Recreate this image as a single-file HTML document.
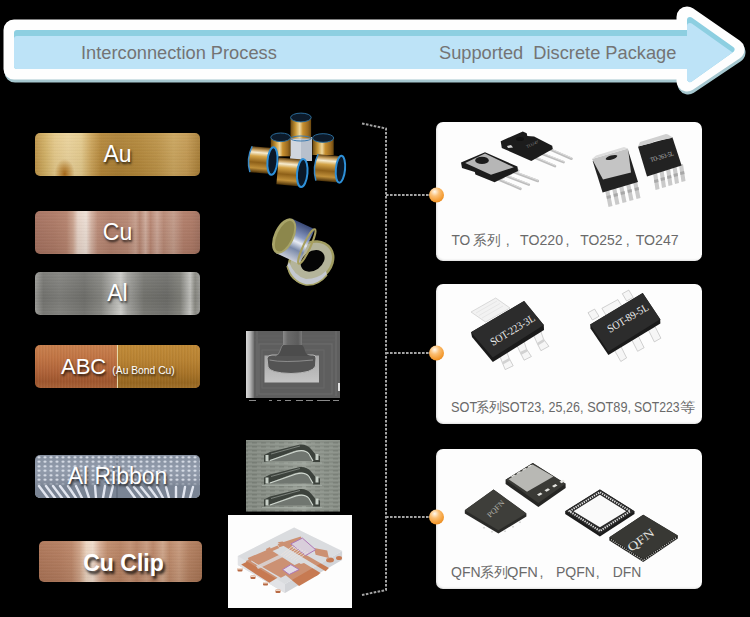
<!DOCTYPE html>
<html><head><meta charset="utf-8">
<style>
html,body{margin:0;padding:0;background:#000;width:750px;height:617px;overflow:hidden;position:relative;font-family:"Liberation Sans",sans-serif;}
.abs{position:absolute;}
.hdr{position:absolute;color:#747474;font-size:18.25px;line-height:1;white-space:nowrap;}
.btn{position:absolute;left:35px;width:165px;height:43px;border-radius:5px;overflow:hidden;}
.btn span{position:absolute;left:0;right:0;text-align:center;color:#fff;font-size:23px;line-height:1;text-shadow:1px 2px 2.5px rgba(0,0,0,.8);white-space:nowrap;}
.card{position:absolute;left:436px;width:266px;border-radius:7px;background:#fdfdfd;overflow:hidden;box-shadow:inset 1px -1px 2px rgba(0,0,0,.12);}
.card .t{position:absolute;left:15px;color:#686868;font-size:13.5px;line-height:1;white-space:nowrap;}
</style></head>
<body>
<!-- top arrow -->
<svg class="abs" style="left:0;top:0" width="750" height="100" viewBox="0 0 750 100">
  <defs>
    <mask id="innerclip" maskUnits="userSpaceOnUse" x="0" y="0" width="750" height="100"><path d="M17,33 L690,33 L690,20 L731.5,49.5 L690,79 L690,66 L17,66 Z" fill="#fff" stroke="#fff" stroke-width="6" stroke-linejoin="round"/></mask>
  </defs>
  <path transform="translate(1,3)" d="M14,30 L687,30 L687,17 L734,49.5 L687,81 L687,69 L14,69 Z" fill="#a5c7cf" stroke="#a5c7cf" stroke-width="21" stroke-linejoin="round"/>
  <path d="M14,30 L687,30 L687,17 L734,49.5 L687,81 L687,69 L14,69 Z" fill="#fefefe" stroke="#fefefe" stroke-width="21" stroke-linejoin="round"/>
  <path d="M17,33 L690,33 L690,20 L731.5,49.5 L690,79 L690,66 L17,66 Z" fill="#8dcfe1" stroke="#8dcfe1" stroke-width="6" stroke-linejoin="round"/>
  <g mask="url(#innerclip)"><path transform="translate(0,6)" d="M17,33 L690,33 L690,20 L731.5,49.5 L690,79 L690,66 L17,66 Z" fill="#bde3f7" stroke="#bde3f7" stroke-width="6" stroke-linejoin="round"/></g>
</svg>
<div class="hdr" style="left:81px;top:44px">Interconnection Process</div>
<div class="hdr" style="left:439px;top:44px">Supported&nbsp; Discrete Package</div>

<!-- buttons -->
<div class="btn" style="top:133px;background:repeating-linear-gradient(0deg,rgba(255,255,255,.025) 0px,rgba(255,255,255,.025) 1px,rgba(0,0,0,.02) 1px,rgba(0,0,0,.02) 2px,rgba(0,0,0,0) 2px,rgba(0,0,0,0) 3px),radial-gradient(ellipse 10px 15px at 18% 95%,rgba(160,98,18,.95),rgba(170,110,28,.55) 50%,rgba(175,115,30,0)),linear-gradient(180deg,rgba(255,255,255,.06),rgba(0,0,0,.06)),linear-gradient(90deg,#be9448 0%,#d2b064 6%,#e4c888 12%,#ead29a 20%,#e4ca8c 28%,#cca45a 34%,#b48638 40%,#ac8034 50%,#b28638 62%,#bc9246 74%,#caa45c 84%,#c49a52 92%,#a87e36 100%)"><span style="top:10px">Au</span></div>
<div class="btn" style="top:211px;background:repeating-linear-gradient(0deg,rgba(255,255,255,.025) 0px,rgba(255,255,255,.025) 1px,rgba(0,0,0,.02) 1px,rgba(0,0,0,.02) 2px,rgba(0,0,0,0) 2px,rgba(0,0,0,0) 3px),linear-gradient(180deg,rgba(255,255,255,.04),rgba(0,0,0,.08)),linear-gradient(90deg,#a67260 0%,#ae7a66 12%,#b6836e 19%,#ccA490 23%,#e8d4c8 26%,#eee0d6 31%,#d6b4a4 34%,#bc8c78 38%,#b2806c 46%,#b88874 56%,#c8a08e 61%,#b68672 63.5%,#d0ac9c 67%,#b88672 70%,#ccA696 74%,#b88874 78%,#c49c8a 84%,#b27e6a 90%,#ae7a66 95%,#a0705e 100%)"><span style="top:10px">Cu</span></div>
<div class="btn" style="top:272px;background:repeating-linear-gradient(0deg,rgba(255,255,255,.025) 0px,rgba(255,255,255,.025) 1px,rgba(0,0,0,.02) 1px,rgba(0,0,0,.02) 2px,rgba(0,0,0,0) 2px,rgba(0,0,0,0) 3px),linear-gradient(180deg,rgba(255,255,255,.08),rgba(0,0,0,.04) 60%,rgba(255,255,255,.04)),linear-gradient(90deg,#9a9a96 0%,#747470 5%,#7e7e7a 15%,#70706c 30%,#84847f 40%,#acaca8 47%,#cacac6 52%,#a0a09c 56%,#74746f 66%,#6c6c68 80%,#7e7e78 88%,#c0c0bc 94%,#86867f 97%,#9a9a96 100%)"><span style="top:10px">Al</span></div>
<div class="btn" style="top:345px;background:repeating-linear-gradient(90deg,rgba(255,255,255,.03) 0px,rgba(255,255,255,.03) 1px,rgba(0,0,0,.03) 1px,rgba(0,0,0,.03) 2px,rgba(0,0,0,0) 2px,rgba(0,0,0,0) 3px),linear-gradient(180deg,#c8804e 0%,#c07444 30%,#b0643a 60%,#9e562e 85%,#a86238 100%)">
  <div class="abs" style="left:82px;top:0;width:83px;height:43px;background:repeating-linear-gradient(90deg,rgba(255,255,255,.03) 0px,rgba(255,255,255,.03) 1px,rgba(0,0,0,.03) 1px,rgba(0,0,0,.03) 2px,rgba(0,0,0,0) 2px,rgba(0,0,0,0) 3px),linear-gradient(180deg,#c08a38 0%,#b88232 35%,#a87428 65%,#966620 88%,#a0702a 100%)"></div>
  <div class="abs" style="left:82px;top:0;width:1px;height:43px;background:#e6d8a8"></div>
  <span style="top:11px;left:26px;text-align:left;font-size:22px">ABC <small style="font-size:10.3px;position:relative;top:0px">(Au Bond Cu)</small></span></div>
<div class="btn rib" style="top:455px;background:radial-gradient(ellipse 2.2px 1.4px at 50% 50%,rgba(240,244,250,.95) 0px,rgba(235,240,248,.7) 1.1px,rgba(225,232,242,0) 2.2px) 1px 0px/6px 4.5px,linear-gradient(180deg,#8690a0 0%,#929cac 35%,#868f9f 62%,#9aa2b0 100%)">
  <svg class="abs" style="left:0;top:0" width="165" height="43"><defs><linearGradient id="ribfade" x1="0" y1="0" x2="0" y2="1"><stop offset="0" stop-color="#7a8494" stop-opacity="0"/><stop offset="0.3" stop-color="#7a8494" stop-opacity="1"/></linearGradient></defs><rect x="0" y="26" width="165" height="17" fill="url(#ribfade)"/><g stroke="rgba(236,240,248,.9)" stroke-width="2.4" fill="none" stroke-linecap="round">
  <path d="M4,31 L13,43 M11,31 L20,43 M18,31 L27,43 M25,31 L34,43 M33,31 L41,43 M41,31 L47,43 M50,31 L54,43 M60,31 L61,43 M70,31 L68,43 M78,31 L75,43 M92,32 L100,43 M99,32 L108,43 M106,32 L115,43 M114,32 L122,43 M122,32 L128,43 M131,32 L134,43 M141,32 L141,43 M150,32 L148,43 M158,32 L155,43"/></g>
  <path d="M82,0 L82,43" stroke="rgba(50,58,70,.45)" stroke-width="1"/></svg>
  <span style="top:10px">Al Ribbon</span></div>
<div class="btn" style="top:541px;left:39px;width:163px;height:41px;background:repeating-linear-gradient(0deg,rgba(255,255,255,.025) 0px,rgba(255,255,255,.025) 1px,rgba(0,0,0,.02) 1px,rgba(0,0,0,.02) 2px,rgba(0,0,0,0) 2px,rgba(0,0,0,0) 3px),linear-gradient(180deg,rgba(255,255,255,.04),rgba(0,0,0,.08)),linear-gradient(90deg,#ae7658 0%,#b47c5e 12%,#bc8668 20%,#d0a488 25%,#ecd4c0 29%,#f0dccc 33%,#d8b098 37%,#c08c6c 42%,#b88262 50%,#c49274 56%,#b88264 60%,#c89a7e 66%,#ba8466 70%,#d0a68a 76%,#bc8868 80%,#c89a7c 86%,#b48060 92%,#a87454 100%)"><span style="top:11px;padding-left:6px;font-weight:bold;text-shadow:2px 3px 3px rgba(0,0,0,.85)">Cu Clip</span></div>

<!-- middle images -->
<svg class="abs" style="left:0;top:0" width="750" height="617">
  <defs>
    <linearGradient id="goldv" x1="0" y1="0" x2="0" y2="1">
      <stop offset="0" stop-color="#5a3c10"/><stop offset="0.12" stop-color="#c8a060"/><stop offset="0.22" stop-color="#f6ecd0"/><stop offset="0.36" stop-color="#d4a448"/><stop offset="0.6" stop-color="#8e6018"/><stop offset="0.82" stop-color="#c0903a"/><stop offset="1" stop-color="#4a3008"/>
    </linearGradient>
    <linearGradient id="goldh" x1="0" y1="0" x2="1" y2="0">
      <stop offset="0" stop-color="#6a4810"/><stop offset="0.25" stop-color="#c89838"/><stop offset="0.45" stop-color="#eed8a0"/><stop offset="0.6" stop-color="#c89030"/><stop offset="0.85" stop-color="#9a6a20"/><stop offset="1" stop-color="#6a4810"/>
    </linearGradient>
    <pattern id="ribtex" width="9" height="4" patternUnits="userSpaceOnUse"><rect width="9" height="1" fill="rgba(210,220,210,.12)"/><rect y="2" width="5" height="1" fill="rgba(40,50,40,.12)"/><rect x="5" y="3" width="4" height="1" fill="rgba(230,235,230,.1)"/></pattern>
    <radialGradient id="flange" cx="0.5" cy="0.5" r="0.5"><stop offset="0" stop-color="#0a2a50"/><stop offset="0.7" stop-color="#1a70b8"/><stop offset="1" stop-color="#40a8e8"/></radialGradient>
    <linearGradient id="silv" x1="0" y1="0" x2="0" y2="1"><stop offset="0" stop-color="#3a4a78"/><stop offset="0.35" stop-color="#8898c0"/><stop offset="0.5" stop-color="#e8ecf4"/><stop offset="0.7" stop-color="#7888a8"/><stop offset="1" stop-color="#c8ccd8"/></linearGradient>
  </defs>
  <!-- gold spools -->
  <g>
    <rect x="290" y="137" width="22" height="24" fill="#b8c0cc"/>
    <rect x="291" y="139" width="10" height="21" fill="#d0d6de"/>
    <rect x="290.5" y="117.5" width="20.6" height="21" fill="url(#goldh)"/>
    <ellipse cx="300.9" cy="138.5" rx="10.3" ry="2.5" fill="none" stroke="#3a7ab0" stroke-width="1"/>
    <ellipse cx="300.9" cy="117.5" rx="10.3" ry="4.4" fill="#0c1a2a" stroke="#2a6a98" stroke-width="1"/>
    <rect x="270.8" y="137.3" width="19.8" height="19" fill="url(#goldh)"/>
    <ellipse cx="280.7" cy="137.3" rx="9.9" ry="4.3" fill="#0c1a2a" stroke="#2a6a98" stroke-width="1"/>
    <rect x="312.5" y="138" width="21.2" height="17" fill="url(#goldh)"/>
    <ellipse cx="323.1" cy="138" rx="10.6" ry="4.3" fill="#0c1a2a" stroke="#2a6a98" stroke-width="1"/>
    <g transform="rotate(5 260 160)">
      <path d="M251,147 L272,147 L272,173 L251,173 Q246,160 251,147 Z" fill="url(#goldv)"/>
      <path d="M251,147 Q246,160 251,173" fill="none" stroke="#3a8ac8" stroke-width="1.5"/>
      <ellipse cx="272.5" cy="160" rx="5" ry="13.8" fill="#0a1828" stroke="#2e90d8" stroke-width="2"/>
    </g>
    <g transform="rotate(5 290 172)">
      <rect x="277.5" y="158.5" width="24.5" height="27" fill="url(#goldv)"/>
      <ellipse cx="302.3" cy="172" rx="5.2" ry="14" fill="#0a1828" stroke="#2e90d8" stroke-width="2"/>
    </g>
    <g transform="rotate(5 327 168)">
      <path d="M317,155 L340,155 L340,181.5 L317,181.5 Q312,168 317,155 Z" fill="url(#goldv)"/>
      <path d="M317,155 Q312,168 317,181.5" fill="none" stroke="#3a8ac8" stroke-width="1.5"/>
      <ellipse cx="340.5" cy="168" rx="4.6" ry="13.5" fill="#0a1828" stroke="#2e90d8" stroke-width="2"/>
    </g>
  </g>
  <!-- silver rings -->
  <g>
    <g transform="rotate(-35 311 262)">
      <ellipse cx="311" cy="262" rx="25" ry="20" fill="#a09c60"/>
      <ellipse cx="311" cy="262" rx="22.5" ry="17.5" fill="#b4b49a"/>
      <ellipse cx="313" cy="262" rx="13" ry="9.5" fill="#050505"/>
    </g>
    <path d="M287,266 Q292,282 306,285 Q318,286 327,275 L326,271 Q318,279 306,279 Q294,276 289,262 Z" fill="#c4c8d0"/>
    <path d="M287,266 Q292,282 306,285 Q318,286 327,275" fill="none" stroke="#a8a468" stroke-width="1.5"/>
    <g transform="rotate(25 295 241)">
      <rect x="283" y="222" width="25" height="38" fill="url(#silv)"/>
      <ellipse cx="308" cy="241" rx="3.5" ry="19" fill="none" stroke="#a8a060" stroke-width="2"/>
      <ellipse cx="283" cy="241" rx="10" ry="19" fill="#a8a468"/>
      <ellipse cx="283.5" cy="241" rx="7.5" ry="16.5" fill="#8c874c"/>
    </g>
  </g>
  <!-- SEM ball bond -->
  <g>
    <defs>
      <linearGradient id="semleft" x1="0" y1="0" x2="1" y2="0"><stop offset="0" stop-color="#d8d8d8"/><stop offset="0.5" stop-color="#b8b8b8"/><stop offset="1" stop-color="#707070"/></linearGradient>
      <linearGradient id="sempad" x1="0" y1="0" x2="0" y2="1"><stop offset="0" stop-color="#a8a8a8"/><stop offset="1" stop-color="#c4c4c4"/></linearGradient>
      <linearGradient id="semcol" x1="0" y1="0" x2="1" y2="0"><stop offset="0" stop-color="#8a8a8a"/><stop offset="0.25" stop-color="#6a6a6a"/><stop offset="0.8" stop-color="#5c5c5c"/><stop offset="1" stop-color="#7a7a7a"/></linearGradient>
    </defs>
    <rect x="246" y="331" width="94" height="67" fill="#5e5e5e"/>
    <rect x="246" y="331" width="8" height="67" fill="url(#semleft)"/>
    <path d="M257,331 V396 M336,331 V396" stroke="#6e6e6e" stroke-width="1"/>
    <rect x="259" y="344" width="73" height="50" fill="none" stroke="#6c6c6c" stroke-width="1.2"/>
    <rect x="262" y="350" width="62" height="38" fill="none" stroke="#686868" stroke-width="1"/>
    <path d="M254,340 H336 M254,336 H336" stroke="#666" stroke-width="0.8"/>
    <rect x="264.5" y="355.5" width="54.5" height="27" fill="url(#sempad)"/>
    <path d="M267,358 Q268,355 272,355 L313,355 Q316,355 316,358 L315.5,366 Q313,373 291,373.5 Q270,373 268,367 Z" fill="#545454" stroke="#b4b4b4" stroke-width="1"/>
    <path d="M269.5,360 Q283,363 313,360" fill="none" stroke="#9a9a9a" stroke-width="0.8"/>
    <path d="M275,356 Q279,355 280,351 Q281,346 284,344 L301,344 Q304,346 305,351 Q306,355 311,356 Z" fill="#4c4c4c"/>
    <path d="M275,356 Q279,355 280,351 Q281,346 284,344" fill="none" stroke="#8a8a8a" stroke-width="0.8"/>
    <rect x="283" y="331" width="19" height="14" fill="url(#semcol)"/>
    <rect x="338" y="383" width="2" height="8" fill="#e0e0e0"/>
    <rect x="246" y="398" width="94" height="5" fill="#000"/>
    <path d="M249,400.5 H256 M269,400.5 H272 M277,400.5 H281 M285,400.5 H291 M296,400.5 H303 M306,400.5 H313 M317,400.5 H330 M333,400.5 H339" stroke="#8a8a8a" stroke-width="1.1"/>
  </g>
  <!-- ribbon SEM -->
  <g>
    <defs>
      <linearGradient id="ribbg" x1="0" y1="0" x2="1" y2="0"><stop offset="0" stop-color="#80867e"/><stop offset="0.4" stop-color="#8a9088"/><stop offset="0.62" stop-color="#9aa098"/><stop offset="0.7" stop-color="#8c928a"/><stop offset="1" stop-color="#848a82"/></linearGradient>
    </defs>
    <rect x="246" y="440" width="94" height="71.5" fill="url(#ribbg)"/>
    <rect x="246" y="440" width="94" height="71.5" fill="url(#ribtex)"/>
    <g id="rib1">
      <path d="M266,461 L297,451 Q305,449 310,456 L313,461 Z" fill="#707670"/>
      <path d="M264,455 L270,452 L300,444.5 Q307,444 311,449 L316,455 L320,456 L320,462 L313,462 Q310,455 305,451 Q300,449 294,451 L270,460 L264,462 Z" fill="#3c423c"/>
      <path d="M270,460.5 L296,451.5 Q305,449 309,454 L313,461" fill="none" stroke="#d0d8d0" stroke-width="1.2"/>
      <path d="M271,454 L300,446" fill="none" stroke="#8a908a" stroke-width="0.8"/>
      <rect x="265.5" y="455" width="3" height="6" fill="#c8d0c8"/>
      <rect x="315.5" y="454" width="3" height="6" fill="#c8d0c8"/>
      <path d="M262,463 H322" stroke="#a8b0a8" stroke-width="1" opacity="0.7"/>
    </g>
    <use href="#rib1" transform="translate(0,22.5)"/>
    <use href="#rib1" transform="translate(0,44.5)"/>
  </g>
  <!-- Cu clip package -->
  <g>
    <rect x="228" y="515" width="124" height="93" fill="#fdfdfd"/>
    <path d="M237.9,556 L294.1,527.4 L342.1,551 L285,584 L285,593 L237.9,565 Z" fill="#d9dadd"/>
    <path d="M237.9,556 L285,584 L285,593 L237.9,565 Z" fill="#e2e3e6"/>
    <path d="M285,584 L342.1,551 L342.1,560 L285,593 Z" fill="#d2d4d8"/>
    <g fill="#c77a52">
      <path d="M241.2,564.6 L249.5,560.5 L277.6,577.8 L269.3,582.8 Z"/>
      <path d="M249.5,559.6 L269.3,548.9 L299.1,567.9 L280.9,577.8 Z"/>
      <path d="M247.8,558 L277.6,545.6 L279.3,548.1 L249.5,561.3 Z"/>
      <path d="M256,566 L283,553 L285,556 L258,569 Z" fill="#d9dadd" opacity="0.8"/>
      <path d="M277.6,542.3 L282.6,541.5 L328.9,567.9 L325.6,571.2 Z"/>
      <path d="M277.6,543.9 L300.7,536.5 L302.4,539.8 L279.3,547.2 Z"/>
      <path d="M314,548 L327.2,550.5 L328.9,558 L315.6,554.7 Z"/>
      <path d="M280.9,571.2 L299.1,563 L318.9,574.5 L299.1,586.1 Z"/>
      <path d="M299.1,564.6 L304,563 L320.6,572.9 L315.6,576.2 Z"/>
      <path d="M286,545 L290,543 L293,546 L289,548 Z"/>
      <ellipse cx="330" cy="560" rx="4" ry="2.5"/><ellipse cx="339" cy="558" rx="3" ry="2"/>
      <path d="M266,549 L270,547 L272,552 L268,554 Z"/>
      <path d="M246,561 L250,559 L252,563 L248,565 Z"/>
    </g>
    <g fill="#b86a44"><rect x="237.5" y="568" width="5" height="3.5" rx="1"/><rect x="250.5" y="575.5" width="5" height="3.5" rx="1"/><rect x="263" y="582" width="5" height="3.5" rx="1"/><rect x="275.5" y="589.5" width="5" height="3.5" rx="1"/></g>
    <g fill="#f0d8c8"><rect x="237.5" y="568" width="5" height="1.5"/><rect x="250.5" y="575.5" width="5" height="1.5"/><rect x="263" y="582" width="5" height="1.5"/><rect x="275.5" y="589.5" width="5" height="1.5"/></g>
    <path d="M290.8,543.9 L302.4,538.1 L315.6,549.7 L305.7,555.5 Z" fill="#d8c8d8" stroke="#a058a8" stroke-width="1"/>
    <path d="M282.6,569.6 L290.8,564.6 L299.1,569.6 L289.2,574.5 Z" fill="#e0d8e4" stroke="#a058a8" stroke-width="1"/>
    <g stroke="#efe2da" stroke-width="0.8">
      <path d="M281,555 L293,546 M283.5,556 L295.5,547 M286,557 L298,548 M288.5,558 L300.5,549 M291,559 L303,550 M293.5,560 L305.5,551 M296,561 L308,552"/>
    </g>
    <path d="M237.9,556 L294.1,527.4 L342.1,551 L285,584 Z" fill="rgba(225,226,230,.22)"/>
  </g>
</svg>

<!-- dotted bracket -->
<svg class="abs" style="left:0;top:0" width="750" height="617">
  <g fill="none" stroke="#a4a4a4" stroke-width="2" stroke-dasharray="2.6 1.4">
    <path d="M362,123.5 L386,128.5 L386,590 L362,595"/>
    <path d="M386,195 L432,195"/>
    <path d="M386,353 L432,353"/>
    <path d="M386,517 L432,517"/>
  </g>
</svg>

<!-- cards -->
<div class="card" style="top:122px;height:139px"></div>
<div class="card" style="top:284px;height:140px"></div>
<div class="card" style="top:449px;height:140px"></div>

<!-- card 1 chips -->
<svg class="abs" style="left:0;top:0" width="750" height="617">
  <defs>
    <linearGradient id="lead" x1="0" y1="0" x2="0" y2="1"><stop offset="0" stop-color="#e8e8e8"/><stop offset="1" stop-color="#a8a8a8"/></linearGradient>
  </defs>
  <!-- TO-247 back -->
  <g>
    <g stroke="#bdbdbd" stroke-width="2.6" stroke-linecap="round">
      <path d="M498.2,179.2 L520.4,188.8"/><path d="M505.4,175.6 L528.8,184.6"/><path d="M513.8,172 L537.8,181"/>
    </g>
    <g stroke="#dcdcdc" stroke-width="1" stroke-linecap="round">
      <path d="M498.2,178.4 L520.4,188"/><path d="M505.4,174.8 L528.8,183.8"/><path d="M513.8,171.2 L537.8,180.2"/>
    </g>
    <g fill="#c8c8c8"><path d="M496,177 L502,174.5 L505,178 L499,180.5 Z"/><path d="M503,173.5 L509,171 L512,174.5 L506,177 Z"/><path d="M511,170 L517,167.5 L520,171 L514,173.5 Z"/></g>
    <path d="M461,162.4 L485,152.2 L517.4,166.6 L518,171 L494.6,182.2 L475.4,174.5 L474.8,172 L462,168 Z" fill="#1c1c1c"/>
    <path d="M465.2,163 L485,153.6 L513.8,167.2 L491,174.8 Z" fill="#b6b6b6"/>
    <ellipse cx="482" cy="160.4" rx="6.8" ry="3.6" fill="#1c1c1c"/>
  </g>
  <!-- TO-247 front -->
  <g>
    <g stroke="#bdbdbd" stroke-width="2.6" stroke-linecap="round">
      <path d="M533.5,157 L555,166.1"/><path d="M541.5,153.6 L563.6,162.1"/><path d="M549.4,149.1 L571.5,158.7"/>
    </g>
    <g stroke="#dedede" stroke-width="1" stroke-linecap="round">
      <path d="M533.5,156.2 L555,165.3"/><path d="M541.5,152.8 L563.6,161.3"/><path d="M549.4,148.3 L571.5,157.9"/>
    </g>
    <path d="M500.7,141.2 L522.8,131.5 L526.7,133.2 L527.3,136.1 L534.1,136.6 L552.2,145.7 L552.8,149.1 L531.3,161 L501.8,148 Z" fill="#1c1c1c"/>
    <path d="M507,146 L511,145 L513,147.5 L508,148 Z" fill="#d8d8d8"/>
    <ellipse cx="520" cy="139" rx="4" ry="2" fill="#121212"/>
    <text x="0" y="0" transform="translate(527,148) rotate(-24)" font-family="Liberation Serif" font-size="4" fill="#8a8a8a" textLength="13" lengthAdjust="spacingAndGlyphs">TO247</text>
  </g>
  <!-- TO-263 back -->
  <g>
    <g fill="#cacaca">
      <path d="M605,190 L609,189 L612.5,206 L608.5,207 Z"/><path d="M612,188 L616,187 L619.5,204 L615.5,205 Z"/><path d="M619,186 L623,185 L626.5,202 L622.5,203 Z"/><path d="M626,184 L630,183 L633.5,200 L629.5,201 Z"/><path d="M633,182 L637,181 L640.5,198 L636.5,199 Z"/>
    </g>
    <g fill="#a8a8a8"><path d="M606.5,196 L610.5,195 L611,198 L607,199 Z"/><path d="M613.5,194 L617.5,193 L618,196 L614,197 Z"/><path d="M620.5,192 L624.5,191 L625,194 L621,195 Z"/><path d="M627.5,190 L631.5,189 L632,192 L628,193 Z"/><path d="M634.5,188 L638.5,187 L639,190 L635,191 Z"/></g>
    <path d="M592.7,161 L628,150 L638,182 L602.6,192.5 Z" fill="#222"/>
    <path d="M592,159 L628,148.5 L631,172.5 L603,179.4 Z" fill="#c4c4c4"/>
    <path d="M592,159 L596,155.5 L624,147 L628,148.5 Z" fill="#dedede"/>
    <ellipse cx="611.5" cy="157.5" rx="6" ry="2" transform="rotate(-16 611.5 157.5)" fill="#222"/>
  </g>
  <!-- TO-263 front -->
  <g>
    <g fill="#cacaca">
      <path d="M653,173 L657,172 L659.5,189 L655.5,190 Z"/><path d="M659.5,171 L663.5,170 L666,187 L662,188 Z"/><path d="M666,169 L670,168 L672.5,185 L668.5,186 Z"/><path d="M672.5,167 L676.5,166 L679,183 L675,184 Z"/><path d="M679,165 L683,164 L685.5,181 L681.5,182 Z"/>
    </g>
    <g fill="#a8a8a8"><path d="M654,180 L658,179 L658.5,182 L654.5,183 Z"/><path d="M660.5,178 L664.5,177 L665,180 L661,181 Z"/><path d="M667,176 L671,175 L671.5,178 L667.5,179 Z"/><path d="M673.5,174 L677.5,173 L678,176 L674,177 Z"/><path d="M680,172 L684,171 L684.5,174 L680.5,175 Z"/></g>
    <path d="M638,146.5 L672.4,137.3 L681.6,165.6 L647,176.4 Z" fill="#222"/>
    <path d="M638,146.5 L640,142 L666,134 L668,134.5 L672.4,137.3 L670,138.5 L655,141 L652,143 Z" fill="#d0d0d0"/>
    <text x="0" y="0" transform="translate(651,162) rotate(-16)" font-family="Liberation Serif" font-size="6.5" fill="#c4c4c4" textLength="24" lengthAdjust="spacingAndGlyphs">TO-263-5L</text>
  </g>
</svg>

<!-- card 2/3 chips -->
<svg class="abs" style="left:0;top:0" width="750" height="617">
  <!-- SOT-223 -->
  <g>
    <path d="M471,312 L495.7,298 L510,308 L485.5,322 Z" fill="#f2f2f2" stroke="#c4c4c4" stroke-width="0.6"/>
    <path d="M476,313 L497,301 M479,315.5 L500,303.5 M482,318 L503,306" stroke="#dadada" stroke-width="0.5"/>
    <g fill="#f6f6f6" stroke="#b4b4b4" stroke-width="0.6">
      <path d="M499.4,354.9 L506.6,351.2 L509,358 L513.2,365.8 L505.2,369.6 L502,362 Z"/>
      <path d="M516.9,345.4 L524.1,341.7 L526.5,349 L531.4,356.5 L524.1,360.2 L520,352 Z"/>
      <path d="M533.6,335.2 L540.9,331.5 L543.5,339 L548.9,346.3 L540.9,350.7 L537,343 Z"/>
    </g>
    <g fill="#d2d2d2"><path d="M502,362 L509,358 L510,360.5 L503,364.5 Z"/><path d="M520,352 L526.5,349 L527.5,351.5 L521,355 Z"/><path d="M537,343 L543.5,339 L544.5,341.5 L538,345.5 Z"/></g>
    <path d="M471,332.3 L524.1,301 L543.8,325 L544,330 L492.8,362 L472,337 Z" fill="#1a1a1a"/>
    <path d="M471,332.3 L524.1,301 L543.8,325 L492.8,357.5 Z" fill="#2c2c2c"/>
    <text transform="translate(493,346) rotate(-31)" font-family="Liberation Serif" font-size="11" fill="#ececec" textLength="50" lengthAdjust="spacingAndGlyphs">SOT-223-3L</text>
  </g>
  <!-- SOT-89 -->
  <g>
    <g fill="#f6f6f6" stroke="#b4b4b4" stroke-width="0.6">
      <path d="M601.9,308.3 L617.9,299.6 L622.3,306.9 L606.2,315.6 Z"/>
      <path d="M588,312.7 L594.6,309.1 L599,316.3 L592.4,320 Z"/>
      <path d="M622.3,293.7 L628.8,290.1 L633.2,297.4 L626.6,301 Z"/>
      <path d="M614.3,349.9 L620.8,346.2 L626.6,357.9 L620.8,361.5 Z"/>
      <path d="M631.7,339.7 L638.3,336 L644.1,347.7 L637.6,351.3 Z"/>
      <path d="M648.5,330.2 L655.1,326.6 L660.9,338.2 L654.3,341.9 Z"/>
    </g>
    <path d="M590.2,324.4 L642.7,293 L660.2,319.3 L660.4,323.5 L608.4,355 L590.5,328.5 Z" fill="#1a1a1a"/>
    <path d="M590.2,324.4 L642.7,293 L660.2,319.3 L608.4,351.5 Z" fill="#2c2c2c"/>
    <text transform="translate(610,333) rotate(-31)" font-family="Liberation Serif" font-size="11" fill="#ececec" textLength="46" lengthAdjust="spacingAndGlyphs">SOT-89-5L</text>
  </g>
  <!-- PQFN front -->
  <g>
    <path d="M464.8,510.2 L493.6,489.4 L526.4,513.4 L526.4,516.5 L498.4,533.5 L464.8,513.5 Z" fill="#2a2a28"/>
    <path d="M464.8,510.2 L493.6,489.4 L526.4,513.4 L498.4,530.2 Z" fill="#3e3e3a"/>
    <g fill="#d8d8d8"><rect x="483" y="527" width="2" height="1.5"/><rect x="491" y="531" width="2" height="1.5"/><rect x="504" y="530.5" width="2" height="1.5"/><rect x="512" y="526" width="2" height="1.5"/><rect x="519" y="521.5" width="2" height="1.5"/></g>
    <text transform="translate(490,518) rotate(-45)" font-family="Liberation Serif" font-size="7.5" fill="#b0b0a8" textLength="21" lengthAdjust="spacingAndGlyphs">PQFN</text>
  </g>
  <!-- PQFN back -->
  <g>
    <path d="M505.6,479.8 L532.8,463 L565.6,483.8 L565.6,488 L538.4,507 L505.6,484 Z" fill="#262624"/>
    <path d="M505.6,479.8 L532.8,463 L565.6,483.8 L538.4,503 Z" fill="#3a3a36"/>
    <path d="M508.5,479.2 L532.6,464.6 L553.5,476.4 L527,491.8 Z" fill="#b8b8b4"/>
    <g fill="#e4e4e0">
      <path d="M537,494.5 L540.5,492.5 L542.5,494 L539,496 Z"/><path d="M544.5,490.3 L548,488.3 L550,489.8 L546.5,491.8 Z"/><path d="M552,486 L555.5,484 L557.5,485.5 L554,487.5 Z"/><path d="M559.5,481.8 L563,479.8 L565,481.3 L561.5,483.3 Z"/>
      <path d="M511,476.5 L514.5,474.5 L515.5,475.2 L512,477.2 Z"/><path d="M516.5,473.2 L520,471.2 L521,471.9 L517.5,473.9 Z"/><path d="M522,470 L525.5,468 L526.5,468.7 L523,470.7 Z"/><path d="M527.5,466.7 L531,464.7 L532,465.4 L528.5,467.4 Z"/>
    </g>
  </g>
  <!-- QFN back -->
  <g>
    <path d="M565.2,511.2 L599.9,489.5 L634.5,511.2 L634.5,514 L599.9,536.5 L565.2,514 Z" fill="#1c1c1c"/>
    <path d="M565.2,511.2 L599.9,489.5 L634.5,511.2 L599.9,533.7 Z" fill="#2a2a2a"/>
    <path d="M569.5,511.2 L599.9,492.2 L630.2,511.2 L599.9,531 Z" fill="none" stroke="#e4e4e4" stroke-width="2" stroke-dasharray="1.3 1.1"/>
    <path d="M573.5,511.2 L599.9,494.7 L626.2,511.2 L599.9,527.3 Z" fill="#fafafa"/>
  </g>
  <!-- QFN front -->
  <g>
    <path d="M609.4,537.2 L643.2,514.7 L677.8,535.5 L677.8,538.5 L643.2,562 L609.4,540.5 Z" fill="#1e1e1c"/>
    <path d="M611,539.6 L643.2,560.3 L676.5,537.6" fill="none" stroke="#c8c8c4" stroke-width="1.6" stroke-dasharray="0.9 1.3"/>
    <path d="M609.4,537.2 L643.2,514.7 L677.8,535.5 L643.2,558.9 Z" fill="#383834"/>
    <text transform="translate(631,552) rotate(-36)" font-family="Liberation Serif" font-size="12" fill="#e4e4e0" textLength="30" lengthAdjust="spacingAndGlyphs">QFN</text>
  </g>
</svg>

<!-- card texts -->
<svg class="abs" style="left:0;top:0" width="750" height="617"><g font-family="Liberation Sans, sans-serif" font-size="14" fill="#6a6a6a">
<text x="451.5" y="245" textLength="18.8" lengthAdjust="spacingAndGlyphs">TO</text>
<text x="473.2" y="245" textLength="27.4" lengthAdjust="spacingAndGlyphs">系列</text>
<text x="505.7" y="245">,</text>
<text x="520.0" y="245" textLength="43.0" lengthAdjust="spacingAndGlyphs">TO220</text>
<text x="565.5" y="245">,</text>
<text x="580.2" y="245" textLength="42.2" lengthAdjust="spacingAndGlyphs">TO252</text>
<text x="625.8" y="245">,</text>
<text x="635.7" y="245" textLength="43.0" lengthAdjust="spacingAndGlyphs">TO247</text>
<text x="451.0" y="411.5" textLength="26.2" lengthAdjust="spacingAndGlyphs">SOT</text>
<text x="476.2" y="411.5" textLength="26.1" lengthAdjust="spacingAndGlyphs">系列</text>
<text x="501.2" y="411.5" textLength="43.6" lengthAdjust="spacingAndGlyphs">SOT23,</text>
<text x="548.6" y="411.5" textLength="34.8" lengthAdjust="spacingAndGlyphs">25,26,</text>
<text x="587.2" y="411.5" textLength="43.9" lengthAdjust="spacingAndGlyphs">SOT89,</text>
<text x="634.0" y="411.5" textLength="45.6" lengthAdjust="spacingAndGlyphs">SOT223</text>
<text x="679.9" y="411.5" textLength="15.3" lengthAdjust="spacingAndGlyphs">等</text>
<text x="451.0" y="576.7" textLength="29.6" lengthAdjust="spacingAndGlyphs">QFN</text>
<text x="479.7" y="576.7" textLength="27.8" lengthAdjust="spacingAndGlyphs">系列</text>
<text x="507.0" y="576.7" textLength="30.9" lengthAdjust="spacingAndGlyphs">QFN</text>
<text x="539.5" y="576.7">,</text>
<text x="556.0" y="576.7" textLength="39.0" lengthAdjust="spacingAndGlyphs">PQFN</text>
<text x="595.8" y="576.7">,</text>
<text x="612.7" y="576.7" textLength="28.6" lengthAdjust="spacingAndGlyphs">DFN</text>
</g></svg>
<!-- balls -->
<svg class="abs" style="left:0;top:0" width="750" height="617">
  <defs><radialGradient id="ball" cx="0.38" cy="0.28" r="0.75"><stop offset="0" stop-color="#fff8ec"/><stop offset="0.4" stop-color="#fbbf74"/><stop offset="0.85" stop-color="#f39a30"/><stop offset="1" stop-color="#e88a20"/></radialGradient></defs>
  <circle cx="436.5" cy="195" r="7.5" fill="url(#ball)"/>
  <circle cx="436.5" cy="353" r="7.5" fill="url(#ball)"/>
  <circle cx="436.5" cy="517" r="7.5" fill="url(#ball)"/>
</svg>
</body></html>
